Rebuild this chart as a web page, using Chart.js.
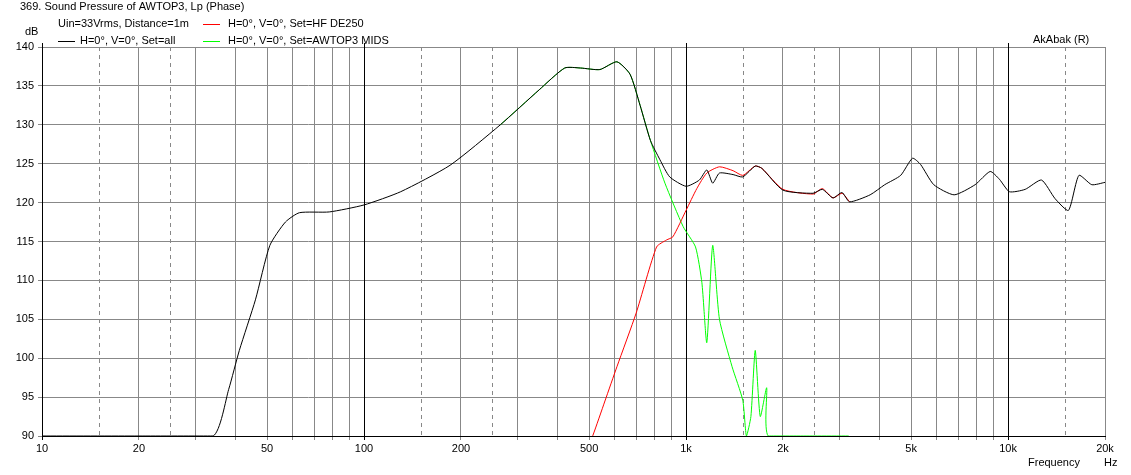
<!DOCTYPE html>
<html>
<head>
<meta charset="utf-8">
<script src="https://cdn.jsdelivr.net/npm/chart.js@4"></script>
<style>
  html, body { margin: 0; padding: 0; background: #fff; }
  #wrap { width: 1131px; height: 475px; position: relative; }
</style>
</head>
<body>
<div id="wrap"><canvas id="chart"></canvas></div>
<script>
// Set=all (black)
const freqAll = [10, 20, 34, 38, 41, 46, 51, 57, 63, 78, 100, 130, 185, 265, 350, 420, 470, 540, 610, 670, 720, 775, 830, 890, 1000, 1100, 1160, 1210, 1270, 1400, 1500, 1640, 1720, 2000, 2480, 2650, 2860, 3050, 3220, 3730, 4140, 4640, 5050, 5350, 5880, 6800, 7900, 8800, 9400, 10100, 11300, 12700, 14000, 15400, 16600, 18200, 20000];
const splAll = [90, 90, 90, 96, 101, 107.5, 114.5, 117.5, 118.7, 118.8, 119.7, 121.4, 124.8, 130, 134.5, 137.3, 137.3, 137.1, 138.1, 136.5, 132.5, 128, 125.5, 123.3, 122.1, 122.9, 124.2, 122.5, 123.8, 123.6, 123.3, 124.7, 124.4, 121.6, 121.2, 121.7, 120.6, 121.3, 120.1, 121, 122.3, 123.5, 125.7, 124.9, 122.3, 121, 122.3, 124, 123, 121.4, 121.7, 122.9, 120.5, 119, 123.5, 122.3, 122.6];
// Set=HF DE250 (red)
const freqHF = [500, 514, 560, 610, 700, 810, 870, 910, 1000, 1080, 1160, 1270, 1400, 1500, 1640, 1720, 2000, 2480, 2650, 2860, 3050, 3220];
const splHF = [89, 90.1, 94.5, 98.9, 105.8, 114.3, 115.2, 115.6, 119, 121.8, 123.8, 124.6, 124.1, 123.5, 124.7, 124.4, 121.7, 121.1, 121.8, 120.6, 121.2, 120.1];
// Set=AWTOP3 MIDS (green)
const freqMid = [265, 350, 420, 470, 540, 610, 670, 720, 775, 860, 980, 1070, 1120, 1160, 1210, 1270, 1390, 1500, 1540, 1590, 1640, 1700, 1780, 1800, 2500, 3200];
const splMid = [130, 134.5, 137.3, 137.3, 137.1, 138.1, 136.5, 132.5, 128, 122.5, 116.9, 114.3, 109.7, 102, 114.5, 105, 98.9, 94.6, 90, 92.5, 101, 92.5, 96.2, 90, 90, 90];

const xTicks = [10, 20, 50, 100, 200, 500, 1000, 2000, 5000, 10000, 20000];
const xTickLabels = ['10', '20', '50', '100', '200', '500', '1k', '2k', '5k', '10k', '20k'];
const yTicks = [90, 95, 100, 105, 110, 115, 120, 125, 130, 135, 140];

const toPts = (f, v) => f.map((x, i) => ({ x: x, y: v[i] }));

// every 1..9 multiple per decade gets a grid line
const gridFreqs = [];
for (let d = 10; d <= 10000; d *= 10) for (let m = 1; m <= 9; m++) if (m * d <= 20000) gridFreqs.push(m * d);
const dashedFreqs = [];
for (let d = 10; d <= 10000; d *= 10) { dashedFreqs.push(1.5 * d); dashedFreqs.push(2.5 * d); }
dashedFreqs.pop();

const font = { family: 'Liberation Sans, Arial', size: 11 };

const decorations = {
  id: 'decorations',
  beforeDatasetsDraw(chart) {
    const c = chart.ctx, x = chart.scales.x, a = chart.chartArea;
    c.save();
    c.strokeStyle = '#888';
    c.lineWidth = 1;
    c.setLineDash([4, 4]);
    dashedFreqs.forEach(f => {
      const px = Math.round(x.getPixelForValue(f)) + 0.5;
      c.beginPath(); c.moveTo(px, a.top); c.lineTo(px, a.bottom); c.stroke();
    });
    c.setLineDash([]);
    c.strokeStyle = '#000';
    [10, 100, 1000, 10000].forEach(f => {
      const px = Math.round(x.getPixelForValue(f)) + 0.5;
      c.beginPath(); c.moveTo(px, a.top - 4); c.lineTo(px, a.bottom + 4); c.stroke();
    });
    c.restore();
  },
  afterDraw(chart) {
    const c = chart.ctx;
    c.save();
    c.font = '11px Liberation Sans, Arial';
    c.fillStyle = '#000';
    c.textBaseline = 'middle';
    c.fillText('369. Sound Pressure of AWTOP3, Lp (Phase)', 20, 7);
    c.fillText('Uin=33Vrms, Distance=1m', 58, 24);
    c.fillText('dB', 25, 32);
    c.fillText('H=0°, V=0°, Set=all', 80, 41);
    c.fillText('H=0°, V=0°, Set=HF DE250', 228, 24);
    c.fillText('H=0°, V=0°, Set=AWTOP3 MIDS', 228, 41);
    c.fillText('AkAbak (R)', 1033, 40);
    c.fillText('Frequency', 1028, 463);
    c.fillText('Hz', 1104, 463);
    c.lineWidth = 1;
    [['#000', 58, 41], ['#ff0000', 203, 24], ['#00ff00', 203, 41]].forEach(([col, lx, ly]) => {
      c.strokeStyle = col;
      c.beginPath(); c.moveTo(lx, ly + 0.5); c.lineTo(lx + 17, ly + 0.5); c.stroke();
    });
    c.restore();
  }
};

new Chart(document.getElementById('chart'), {
  type: 'line',
  data: {
    datasets: [
      { label: 'Set=all', data: toPts(freqAll, splAll), borderColor: '#000000' },
      { label: 'Set=HF DE250', data: toPts(freqHF, splHF), borderColor: '#ff0000' },
      { label: 'Set=AWTOP3 MIDS', data: toPts(freqMid, splMid), borderColor: '#00ff00' }
    ].map(d => Object.assign(d, { borderWidth: 1, pointRadius: 0, tension: 0.2, fill: false }))
  },
  options: {
    responsive: true,
    maintainAspectRatio: false,
    animation: false,
    layout: { padding: { top: 47, right: 26, left: 0, bottom: 0 } },
    plugins: { legend: { display: false }, tooltip: { enabled: false } },
    scales: {
      x: {
        type: 'logarithmic', min: 10, max: 20000,
        afterBuildTicks: s => { s.ticks = gridFreqs.map(v => ({ value: v })); },
        afterFit: s => { s.height = 39; },
        grid: {
          color: ctx => [10, 100, 1000, 10000].includes(ctx.tick && ctx.tick.value) ? 'rgba(0,0,0,0)' : '#888',
          tickLength: 4
        },
        border: { color: '#000' },
        ticks: {
          autoSkip: false, maxRotation: 0, color: '#000', font: font, padding: 2,
          callback: v => { const i = xTicks.indexOf(v); return i >= 0 ? xTickLabels[i] : ''; }
        }
      },
      y: {
        min: 90, max: 140,
        afterBuildTicks: s => { s.ticks = yTicks.map(v => ({ value: v })); },
        afterFit: s => { s.width = 42; },
        grid: { color: '#888', tickLength: 4 },
        border: { color: '#888' },
        ticks: { color: '#000', font: font, padding: 4 }
      }
    }
  },
  plugins: [decorations]
});
</script>
</body>
</html>
